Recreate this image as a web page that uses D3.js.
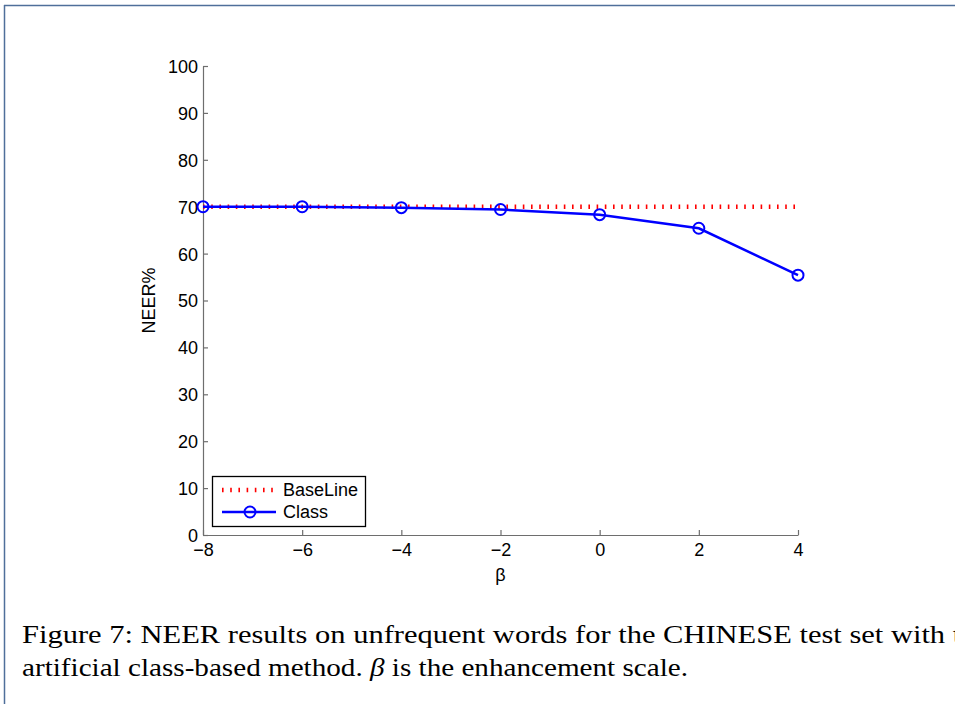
<!DOCTYPE html>
<html>
<head>
<meta charset="utf-8">
<script src="https://cdn.jsdelivr.net/npm/d3@7"></script>
<style>
  html, body { margin: 0; padding: 0; background: #fff; }
  svg { display: block; }
  .sans { font-family: "Liberation Sans", Arial, Helvetica, sans-serif; }
  .serif { font-family: "Liberation Serif", "Times New Roman", serif; }
</style>
</head>
<body>
<svg id="chart" width="955" height="704"></svg>
<script>
// β values (enhancement scale) and NEER% results
const betaValues = [-8, -6, -4, -2, 0, 2, 4];
const classNEER = [70.0, 70.0, 69.8, 69.4, 68.3, 65.4, 55.4];
const baselineNEER = [70, 70, 70, 70, 70, 70, 70];
const xTicks = [-8, -6, -4, -2, 0, 2, 4];
const yTicks = [0, 10, 20, 30, 40, 50, 60, 70, 80, 90, 100];
const legendLabels = ["BaseLine", "Class"];

const svg = d3.select("#chart");

// page frame (top and left edges)
svg.append("line").attr("x1", 4).attr("x2", 955).attr("y1", 5.5).attr("y2", 5.5)
  .attr("stroke", "#4f6f9a").attr("stroke-width", 1.5);
svg.append("line").attr("x1", 4.5).attr("x2", 4.5).attr("y1", 5).attr("y2", 704)
  .attr("stroke", "#4f6f9a").attr("stroke-width", 1.5);

const plotL = 203, plotR = 798, plotT = 66, plotB = 535;
const x = d3.scaleLinear().domain([-8, 4]).range([plotL, plotR]);
const y = d3.scaleLinear().domain([0, 100]).range([plotB, plotT]);

const axisColor = "#6e6e6e";
const fmt = d => d < 0 ? "\u2212" + Math.abs(d) : String(d);

// x axis
const xAxis = svg.append("g").attr("transform", `translate(0,${plotB})`)
  .call(d3.axisBottom(x).tickValues(xTicks).tickFormat(fmt).tickSizeInner(-5).tickSizeOuter(0).tickPadding(8));
// y axis
const yAxis = svg.append("g").attr("transform", `translate(${plotL},0)`)
  .call(d3.axisLeft(y).tickValues(yTicks).tickSizeInner(-5).tickSizeOuter(0).tickPadding(5));

[xAxis, yAxis].forEach(g => {
  g.attr("font-family", null).attr("font-size", null).attr("class", "sans");
  g.select(".domain").attr("stroke", axisColor).attr("stroke-width", 1.2);
  g.selectAll(".tick line").attr("stroke", axisColor).attr("stroke-width", 1.2);
  g.selectAll(".tick text").attr("fill", "#000").style("font-size", "18px");
});
yAxis.selectAll(".tick text").attr("dy", "0.36em");
xAxis.selectAll(".tick text").attr("dy", "0.71em");

// axis labels
svg.append("text").attr("class", "sans").attr("x", x(-2)).attr("y", 581).attr("text-anchor", "middle")
  .style("font-size", "18px").text("\u03b2");
svg.append("text").attr("class", "sans").attr("transform", `translate(155,${y(50)}) rotate(-90)`)
  .attr("text-anchor", "middle").style("font-size", "18px").text("NEER%");

// baseline: red dotted
const line = d3.line().x((d, i) => x(betaValues[i])).y(d => y(d));
svg.append("path").datum(baselineNEER).attr("d", line)
  .attr("fill", "none").attr("stroke", "#ff0000").attr("stroke-width", 4.5)
  .attr("stroke-dasharray", "1.6,6.6");

// class-based results: blue line with circle markers
svg.append("path").datum(classNEER).attr("d", line)
  .attr("fill", "none").attr("stroke", "#0000ff").attr("stroke-width", 2.5);
svg.selectAll("circle.cls").data(classNEER).enter().append("circle")
  .attr("class", "cls")
  .attr("cx", (d, i) => x(betaValues[i])).attr("cy", d => y(d)).attr("r", 5.5)
  .attr("fill", "none").attr("stroke", "#0000ff").attr("stroke-width", 2);

// legend
const lg = svg.append("g");
lg.append("rect").attr("x", 212.5).attr("y", 476.5).attr("width", 153).attr("height", 50)
  .attr("fill", "#fff").attr("stroke", "#000").attr("stroke-width", 1.3);
lg.append("line").attr("x1", 222).attr("x2", 274).attr("y1", 490).attr("y2", 490)
  .attr("stroke", "#ff0000").attr("stroke-width", 4.5).attr("stroke-dasharray", "1.6,6.6");
lg.append("line").attr("x1", 222).attr("x2", 276).attr("y1", 512).attr("y2", 512)
  .attr("stroke", "#0000ff").attr("stroke-width", 2.5);
lg.append("circle").attr("cx", 250).attr("cy", 512).attr("r", 5.5)
  .attr("fill", "none").attr("stroke", "#0000ff").attr("stroke-width", 2);
lg.selectAll("text").data(legendLabels).enter().append("text")
  .attr("class", "sans")
  .attr("x", 283).attr("y", (d, i) => 490 + i * 22).attr("dy", "0.36em")
  .style("font-size", "18px").text(d => d);

// caption
svg.append("text").attr("class", "serif").attr("x", 22).attr("y", 643)
  .style("font-size", "25px")
  .attr("textLength", 968).attr("lengthAdjust", "spacingAndGlyphs")
  .text("Figure 7: NEER results on unfrequent words for the CHINESE test set with the");
const cap2 = svg.append("text").attr("class", "serif").attr("x", 22).attr("y", 676)
  .style("font-size", "25px")
  .attr("textLength", 666).attr("lengthAdjust", "spacingAndGlyphs");
cap2.append("tspan").text("artificial class-based method. ");
cap2.append("tspan").attr("font-style", "italic").text("\u03b2");
cap2.append("tspan").text(" is the enhancement scale.");
</script>
</body>
</html>
